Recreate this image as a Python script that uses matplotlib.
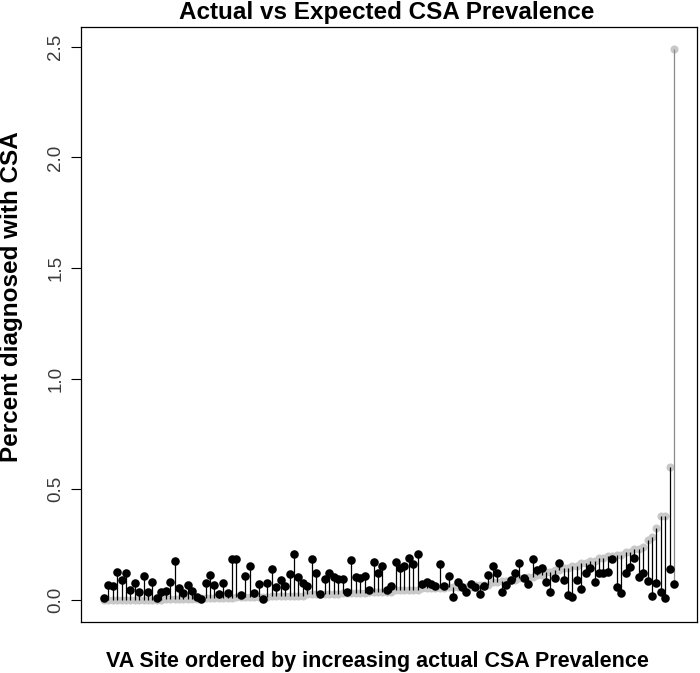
import matplotlib
matplotlib.use("Agg")
import matplotlib.pyplot as plt
import numpy as np

plt.rcParams['font.family'] = ['Liberation Sans', 'DejaVu Sans']

# Actual CSA prevalence (gray, sorted increasing) per VA site
actual = [
    0.0, 0.0, 0.0, 0.0, 0.0, 0.0,
    0.002, 0.002, 0.002, 0.002, 0.002, 0.002, 0.002, 0.002,
    0.005, 0.005, 0.005, 0.005, 0.005, 0.005, 0.005, 0.005,
    0.01, 0.01, 0.01, 0.01, 0.01, 0.01, 0.01, 0.01,
    0.015, 0.015, 0.015, 0.015, 0.015, 0.015, 0.015, 0.015,
    0.02, 0.02, 0.02, 0.02, 0.02, 0.02, 0.02, 0.02,
    0.025, 0.025, 0.025, 0.025, 0.025, 0.025, 0.025, 0.025,
    0.03, 0.03, 0.03, 0.03, 0.03, 0.03,
    0.038, 0.038, 0.038, 0.038, 0.038, 0.038,
    0.045, 0.045, 0.045, 0.045, 0.045, 0.045,
    0.052, 0.052, 0.052, 0.052, 0.052, 0.052,
    0.058, 0.058, 0.058, 0.058, 0.058, 0.058,
    0.068, 0.068, 0.068, 0.068,
    0.08, 0.08, 0.085, 0.085, 0.092, 0.092, 0.1, 0.1,
    0.105, 0.105, 0.115, 0.115, 0.125, 0.125, 0.135, 0.135,
    0.145, 0.145, 0.155, 0.155, 0.165, 0.165, 0.175, 0.175,
    0.19, 0.19, 0.2, 0.2, 0.205, 0.205, 0.215, 0.215,
    0.23, 0.23, 0.24, 0.27, 0.285, 0.325, 0.38, 0.38, 0.6, 2.49,
]

# Expected CSA prevalence (black) per VA site
expected = [
    0.01, 0.068, 0.065, 0.125, 0.088, 0.12, 0.045, 0.078, 0.034, 0.11,
    0.038, 0.082, 0.01, 0.035, 0.04, 0.082, 0.175, 0.053, 0.03, 0.068,
    0.04, 0.015, 0.005, 0.077, 0.113, 0.068, 0.028, 0.077, 0.033, 0.185,
    0.185, 0.022, 0.108, 0.153, 0.032, 0.07, 0.005, 0.077, 0.14, 0.06,
    0.09, 0.063, 0.117, 0.208, 0.105, 0.077, 0.065, 0.185, 0.12, 0.027,
    0.095, 0.12, 0.105, 0.095, 0.095, 0.036, 0.18, 0.105, 0.1, 0.108,
    0.045, 0.17, 0.12, 0.153, 0.045, 0.063, 0.17, 0.145, 0.153, 0.19,
    0.162, 0.208, 0.07, 0.08, 0.07, 0.063, 0.162, 0.063, 0.11, 0.014,
    0.083, 0.06, 0.036, 0.07, 0.06, 0.027, 0.063, 0.113, 0.153, 0.12,
    0.036, 0.068, 0.09, 0.12, 0.166, 0.1, 0.07, 0.185, 0.135, 0.145,
    0.083, 0.036, 0.1, 0.166, 0.09, 0.023, 0.013, 0.09, 0.05, 0.12,
    0.145, 0.083, 0.12, 0.12, 0.126, 0.185, 0.06, 0.03, 0.12, 0.15,
    0.19, 0.105, 0.12, 0.087, 0.018, 0.077, 0.036, 0.01, 0.14, 0.072,
]

yticks = [0.0, 0.5, 1.0, 1.5, 2.0, 2.5]
ytick_labels = ["0.0", "0.5", "1.0", "1.5", "2.0", "2.5"]

title = "Actual vs Expected CSA Prevalence"
xlabel = "VA Site ordered by increasing actual CSA Prevalence"
ylabel = "Percent diagnosed with CSA"

n = len(actual)
x = np.arange(1, n + 1)
act = np.array(actual)
exp_ = np.array(expected)

fig = plt.figure(figsize=(7.0, 6.73), dpi=100)
ax = fig.add_axes([81 / 700, 1 - 622 / 673, (697 - 81) / 700, (622 - 27) / 673])

ax.scatter(x, act, s=34, color='#c8c8c8', zorder=2, linewidths=0)
seg_colors = ['#8a8a8a' if abs(a - e) > 1 else 'black' for a, e in zip(act, exp_)]
ax.vlines(x, exp_, act, colors=seg_colors, linewidth=0.9, zorder=3)
ax.scatter(x, exp_, s=38, color='black', zorder=4, linewidths=0)

rng = n - 1
ax.set_xlim(1 - 0.04 * rng, n + 0.04 * rng)
ymax = max(max(actual), max(expected))
ymin = min(min(actual), min(expected))
yr = ymax - ymin
ax.set_ylim(ymin - 0.04 * yr, ymax + 0.04 * yr)

ax.set_xticks([])
ax.set_yticks(yticks)
ax.set_yticklabels(ytick_labels, rotation=90, va='center', fontsize=13.5, color='#3a3a3a')
ax.tick_params(axis='y', direction='out', length=7, width=0.8, pad=5)
for sp in ax.spines.values():
    sp.set_linewidth(0.9)
    sp.set_color('black')

fig.text(387 / 700, 1 - 12 / 673, title, ha='center', va='center',
         fontsize=17.5, fontweight='bold')
fig.text(377 / 700, 1 - 661 / 673, xlabel, ha='center', va='center',
         fontsize=15.5, fontweight='bold')
fig.text(12 / 700, 1 - 297 / 673, ylabel, ha='center', va='center', rotation=90,
         fontsize=17.5, fontweight='bold')

fig.savefig("out.png", dpi=100)
